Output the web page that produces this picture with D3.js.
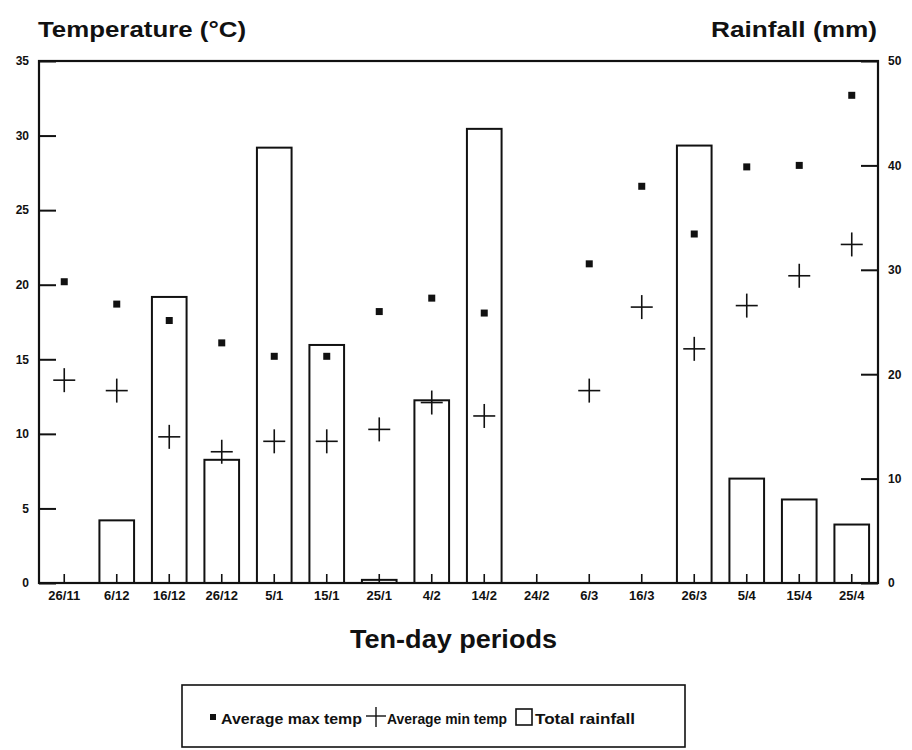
<!DOCTYPE html>
<html>
<head>
<meta charset="utf-8">
<script src="https://cdn.jsdelivr.net/npm/d3@7"></script>
<style>
  html, body { margin: 0; padding: 0; background: #ffffff; }
  svg { display: block; }
  text { font-family: "Liberation Sans", Arial, Helvetica, sans-serif; font-weight: bold; fill: #111; }
</style>
</head>
<body>
<svg id="chart" width="912" height="750"></svg>
<script>
// ---- data ----
const periods = ["26/11","6/12","16/12","26/12","5/1","15/1","25/1","4/2","14/2","24/2","6/3","16/3","26/3","5/4","15/4","25/4"];
const maxTemp = [20.2, 18.7, 17.6, 16.1, 15.2, 15.2, 18.2, 19.1, 18.1, null, 21.4, 26.6, 23.4, 27.9, 28.0, 32.7];
const minTemp = [13.6, 12.9, 9.8, 8.8, 9.5, 9.5, 10.3, 12.1, 11.2, null, 12.9, 18.5, 15.7, 18.6, 20.6, 22.7];
const rainfall = [0, 6.0, 27.4, 11.8, 41.7, 22.8, 0.3, 17.5, 43.5, 0, 0, 0, 41.9, 10.0, 8.0, 5.6];
const tempTicks = [0, 5, 10, 15, 20, 25, 30, 35];
const rainTicks = [0, 10, 20, 30, 40, 50];
const legendLabels = ["Average max temp", "Average min temp", "Total rainfall"];

// ---- layout ----
const L = 39, R = 878, T = 61, B = 583;
const svg = d3.select("#chart");
const ink = "#111";

const x = d3.scaleBand().domain(periods).range([38, 878]).paddingInner(0.34).paddingOuter(0.17);
const yT = d3.scaleLinear().domain([0, 35]).range([B, T]);
const yR = d3.scaleLinear().domain([0, 50]).range([B, T]);

// bars
const rainData = periods.map((p, i) => ({p, v: rainfall[i]})).filter(d => d.v > 0);
svg.append("g").selectAll("rect").data(rainData).join("rect")
  .attr("x", d => x(d.p))
  .attr("width", x.bandwidth())
  .attr("y", d => yR(d.v))
  .attr("height", d => B - yR(d.v))
  .attr("fill", "none")
  .attr("stroke", ink)
  .attr("stroke-width", 2);

// frame
svg.append("rect").attr("x", L).attr("y", T).attr("width", R - L).attr("height", B - T)
  .attr("fill", "none").attr("stroke", ink).attr("stroke-width", 2.2);

// left axis
const gl = svg.append("g").attr("transform", `translate(${L},0)`)
  .call(d3.axisLeft(yT).tickValues(tempTicks).tickSize(-17).tickPadding(10));
gl.select(".domain").remove();
gl.selectAll("line").attr("stroke", ink).attr("stroke-width", 2);
gl.selectAll("text").style("font-size", "12px").attr("fill", ink);

// right axis
const gr = svg.append("g").attr("transform", `translate(${R},0)`)
  .call(d3.axisRight(yR).tickValues(rainTicks).tickSize(-17).tickPadding(10));
gr.select(".domain").remove();
gr.selectAll("line").attr("stroke", ink).attr("stroke-width", 2);
gr.selectAll("text").style("font-size", "12px").attr("fill", ink);

// bottom axis
const gb = svg.append("g").attr("transform", `translate(0,${B})`)
  .call(d3.axisBottom(x).tickSize(-9).tickPadding(8));
gb.select(".domain").remove();
gb.selectAll("line").attr("stroke", ink).attr("stroke-width", 1.6);
gb.selectAll("text").style("font-size", "13px").attr("fill", ink);

// max temp squares
const maxData = periods.map((p, i) => ({p, v: maxTemp[i]})).filter(d => d.v != null);
svg.append("g").selectAll("rect").data(maxData).join("rect")
  .attr("x", d => x(d.p) + x.bandwidth() / 2 - 3.5)
  .attr("y", d => yT(d.v) - 3.5)
  .attr("width", 7).attr("height", 7)
  .attr("fill", ink);

// min temp plus
const minData = periods.map((p, i) => ({p, v: minTemp[i]})).filter(d => d.v != null);
const plus = svg.append("g").selectAll("g").data(minData).join("g")
  .attr("transform", d => `translate(${x(d.p) + x.bandwidth() / 2},${yT(d.v)})`);
plus.append("line").attr("x1", -11).attr("x2", 11).attr("y1", 0).attr("y2", 0)
  .attr("stroke", ink).attr("stroke-width", 1.6);
plus.append("line").attr("x1", 0).attr("x2", 0).attr("y1", -12).attr("y2", 12)
  .attr("stroke", ink).attr("stroke-width", 1.6);

// titles
svg.append("text").attr("x", 38).attr("y", 37).style("font-size", "22px")
  .attr("textLength", 208).attr("lengthAdjust", "spacingAndGlyphs").text("Temperature (°C)");
svg.append("text").attr("x", 877).attr("y", 37).attr("text-anchor", "end").style("font-size", "22px")
  .attr("textLength", 166).attr("lengthAdjust", "spacingAndGlyphs").text("Rainfall (mm)");
svg.append("text").attr("x", 350).attr("y", 648).style("font-size", "25px")
  .attr("textLength", 207).attr("lengthAdjust", "spacingAndGlyphs").text("Ten-day periods");

// legend
const lg = svg.append("g");
lg.append("rect").attr("x", 182).attr("y", 685).attr("width", 503).attr("height", 62)
  .attr("fill", "none").attr("stroke", ink).attr("stroke-width", 1.6);
lg.append("rect").attr("x", 210).attr("y", 714).attr("width", 6).attr("height", 6).attr("fill", ink);
lg.append("text").attr("x", 221).attr("y", 724).style("font-size", "15px")
  .attr("textLength", 141).attr("lengthAdjust", "spacingAndGlyphs").text(legendLabels[0]);
lg.append("line").attr("x1", 366).attr("x2", 386).attr("y1", 716).attr("y2", 716).attr("stroke", ink).attr("stroke-width", 1.4);
lg.append("line").attr("x1", 376).attr("x2", 376).attr("y1", 707).attr("y2", 727).attr("stroke", ink).attr("stroke-width", 1.4);
lg.append("text").attr("x", 387).attr("y", 724).style("font-size", "15px")
  .attr("textLength", 120).attr("lengthAdjust", "spacingAndGlyphs").text(legendLabels[1]);
lg.append("rect").attr("x", 516).attr("y", 709).attr("width", 16).attr("height", 16)
  .attr("fill", "none").attr("stroke", ink).attr("stroke-width", 1.6);
lg.append("text").attr("x", 535).attr("y", 724).style("font-size", "15px")
  .attr("textLength", 100).attr("lengthAdjust", "spacingAndGlyphs").text(legendLabels[2]);
</script>
</body>
</html>
